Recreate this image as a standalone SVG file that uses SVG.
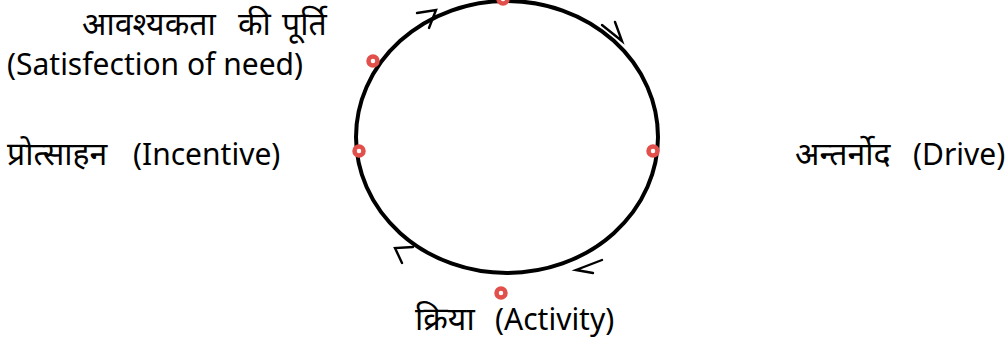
<svg xmlns="http://www.w3.org/2000/svg" width="1007" height="349" viewBox="0 0 1007 349">
<style>
.t{font-family:"Noto Sans","Noto Sans Devanagari",sans-serif;font-size:30px;fill:#000}
.hi{font-size:32px}
.dot{fill:#fff;stroke:#e2504c;stroke-width:4.5}
.ring{fill:none;stroke:#000;stroke-width:4}
.ah{fill:none;stroke:#000;stroke-width:2.4;stroke-linecap:round;stroke-linejoin:miter}
</style>
<rect width="1007" height="349" fill="#fff"/>
<g id="connectors">
<ellipse class="ring" cx="507" cy="137" rx="151" ry="136"/>
<polyline class="ah" points="417,13 436,10 429,28"/>
<polyline class="ah" points="602,25 622,41 615,22"/>
<polyline class="ah" points="602,260 576,270 593,273"/>
<polyline class="ah" points="413,247 395,248 402,263"/>
</g>
<g id="node-satisfaction">
<circle class="dot" cx="373" cy="61" r="4.5"/>
<text class="t" y="35"><tspan class="hi" x="82">आवश्यकता</tspan><tspan class="hi" x="238">की</tspan><tspan class="hi" x="282">पूर्ति</tspan></text>
<text class="t" x="7" y="75">(Satisfection of need)</text>
</g>
<g id="node-top">
<circle class="dot" cx="503" cy="-1" r="4.5"/>
</g>
<g id="node-incentive">
<circle class="dot" cx="359" cy="151" r="4.5"/>
<text class="t" y="165"><tspan class="hi" x="7">प्रोत्साहन</tspan><tspan x="133">(Incentive)</tspan></text>
</g>
<g id="node-drive">
<circle class="dot" cx="653" cy="151" r="4.5"/>
<text class="t" y="165"><tspan class="hi" x="795">अन्तर्नोद</tspan><tspan x="913">(Drive)</tspan></text>
</g>
<g id="node-activity">
<circle class="dot" cx="501" cy="293" r="4.5"/>
<text class="t" y="330"><tspan class="hi" x="415">क्रिया</tspan><tspan x="495">(Activity)</tspan></text>
</g>
</svg>
